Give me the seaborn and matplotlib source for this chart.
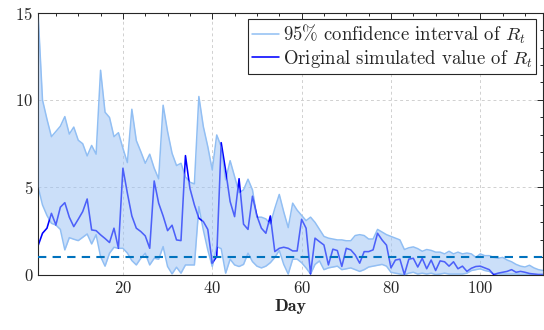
import numpy as np
import pandas as pd
import matplotlib
matplotlib.use("Agg")
import matplotlib.pyplot as plt
import seaborn as sns

days = np.arange(1, 115)

upper = [15.0, 10.0, 8.9, 7.9, 8.2, 8.5, 9.05, 8.05, 8.45, 7.7, 7.5, 6.8, 7.4, 6.9, 11.7, 9.3, 9.0,
         7.9, 8.13, 7.24, 6.42, 9.47, 7.68, 7.05, 6.38, 6.9, 6.1, 5.49, 9.7, 8.19, 6.95, 6.25, 6.38,
         5.6, 5.3, 5.2, 10.2, 8.48, 7.33, 6.0, 8.0, 7.33, 5.43, 6.53, 5.62, 4.7, 4.86, 5.47, 4.86,
         3.3, 3.3, 3.2, 2.9, 3.8, 4.6, 3.6, 2.7, 4.1, 3.7, 3.4, 3.1, 3.3, 3.0, 2.6, 2.2,
         2.1, 2.05, 2.0, 2.0, 1.95, 1.95, 2.25, 2.3, 2.25, 2.05, 2.05, 2.6, 2.45, 2.3, 2.2, 2.1,
         2.0, 1.45, 1.55, 1.6, 1.5, 1.35, 1.45, 1.4, 1.3, 1.3, 1.2, 1.35, 1.2, 1.3, 1.2, 1.25,
         1.2, 1.0, 1.2, 1.1, 1.1, 1.0, 0.95, 1.0, 0.85, 0.75, 0.6, 0.5, 0.45, 0.55, 0.4, 0.3, 0.25]

lower = [5.05, 4.0, 3.4, 2.95, 2.85, 2.6, 1.43, 2.13, 2.04, 1.96, 2.15, 2.34, 1.77, 2.3, 1.05, 0.5, 1.24,
         1.58, 1.52, 1.52, 1.25, 0.82, 0.57, 0.95, 1.24, 0.57, 0.95, 0.9, 1.62, 0.48, 0.06, 0.44, 0.1,
         0.57, 0.57, 0.57, 3.9, 2.57, 1.43, 0.48, 1.62, 1.5, 0.1, 0.9, 0.57, 0.48, 0.6, 1.24, 0.76,
         0.5, 0.4, 0.5, 0.7, 1.0, 1.4, 0.6, 0.05, 0.9, 0.9, 0.7, 0.4, 0.05, 0.6, 0.8, 0.3,
         0.4, 0.45, 0.5, 0.3, 0.35, 0.4, 0.3, 0.2, 0.3, 0.45, 0.5, 0.55, 0.6, 0.5, 0.15, 0.1,
         0.05, 0.0, 0.1, 0.15, 0.05, 0.1, 0.05, 0.1, 0.02, 0.05, 0.1, 0.05, 0.05, 0.05, 0.05, 0.1,
         0.25, 0.3, 0.35, 0.25, 0.2, 0.05, 0.05, 0.05, 0.05, 0.05, 0.05, 0.03, 0.03, 0.03, 0.02, 0.02, 0.02]

original = [1.66, 2.38, 2.67, 3.52, 2.86, 3.87, 4.13, 3.3, 2.76, 3.18, 3.62, 4.34, 2.57, 2.53, 2.29, 2.08, 1.85,
            2.67, 1.52, 6.1, 4.67, 3.37, 2.67, 2.48, 2.23, 1.52, 5.37, 4.1, 3.37, 2.53, 2.84, 2.0, 1.96,
            6.82, 4.95, 4.0, 3.24, 3.05, 2.6, 0.67, 1.05, 7.56, 5.96, 4.19, 3.33, 5.5, 2.9, 2.6, 4.5,
            3.37, 2.67, 2.38, 3.37, 1.33, 1.52, 1.58, 1.52, 1.37, 1.37, 3.18, 2.67, 0.06, 2.1, 1.9, 1.71,
            0.57, 1.47, 1.39, 0.48, 1.52, 1.43, 1.14, 0.67, 1.33, 1.33, 1.43, 2.38, 2.0, 1.7, 0.4, 0.85,
            0.9, 0.02, 0.9, 0.95, 0.45, 0.95, 0.35, 0.85, 0.25, 0.8, 0.75, 0.5, 0.75, 0.35, 0.5, 0.2,
            0.38, 0.48, 0.5, 0.4, 0.3, 0.02, 0.1, 0.15, 0.2, 0.3, 0.15, 0.2, 0.15, 0.08, 0.05, 0.02, 0.02]

threshold = 1.0
x_ticks = [20, 40, 60, 80, 100]
y_ticks = [0, 5, 10, 15]
label_ci = r"95% confidence interval of $R_t$"
label_orig = r"Original simulated value of $R_t$"
x_label = "Day"

df = pd.DataFrame({"day": days, "upper": upper, "lower": lower, "original": original})

sns.set_theme(style="white")
plt.rcParams["font.family"] = ["cmr10", "DejaVu Serif"]
plt.rcParams["mathtext.fontset"] = "cm"
plt.rcParams["axes.formatter.use_mathtext"] = True

fig = plt.figure(figsize=(5.44, 3.30), dpi=100)
ax = fig.add_axes([0.0699, 0.167, 0.928, 0.795])

ci_line = "#8fbef3"
sns.lineplot(data=df, x="day", y="original", ax=ax, color="#0000ff", linewidth=1.15,
             label=label_orig, zorder=2)
sns.lineplot(data=df, x="day", y="upper", ax=ax, color=ci_line, linewidth=1.1,
             label=label_ci, zorder=1)
sns.lineplot(data=df, x="day", y="lower", ax=ax, color=ci_line, linewidth=1.1,
             legend=False, zorder=1)
ax.fill_between(df["day"], df["lower"], df["upper"], color=(0.60, 0.757, 0.96),
                alpha=0.5, linewidth=0, zorder=3)
ax.axhline(threshold, color="#0072BD", linewidth=1.5, linestyle=(0, (4, 3)), zorder=4)

ax.set_xlim(1, 114)
ax.set_ylim(0, 15)
ax.set_xticks(x_ticks)
ax.set_yticks(y_ticks)
ax.set_xticks(np.arange(5, 114, 5), minor=True)
ax.set_yticks(np.arange(0, 16, 1), minor=True)
ax.grid(True, which="major", linestyle=(0, (3, 3)), color="#d0d0d0", linewidth=0.7)
ax.set_axisbelow(True)

ax.tick_params(which="both", direction="in", top=True, right=True, colors="#262626",
               labelsize=12, width=0.7)
ax.tick_params(which="major", length=4.5)
ax.tick_params(which="minor", length=2.5)
for s in ax.spines.values():
    s.set_color("#262626")
    s.set_linewidth(0.8)

ax.set_xlabel(x_label, fontsize=13, fontfamily="cmb10", labelpad=2, color="#262626")
ax.set_ylabel("")

h, l = ax.get_legend_handles_labels()
order = [l.index(label_ci), l.index(label_orig)]
leg = ax.legend([h[i] for i in order], [l[i] for i in order], loc="upper right",
                fontsize=13.5, frameon=True, fancybox=False, edgecolor="#262626",
                framealpha=1, handlelength=1.45, handletextpad=0.2, borderpad=0.2,
                labelspacing=0.1, borderaxespad=0.35)
leg.get_frame().set_linewidth(0.8)

fig.savefig("out.png", dpi=100)
